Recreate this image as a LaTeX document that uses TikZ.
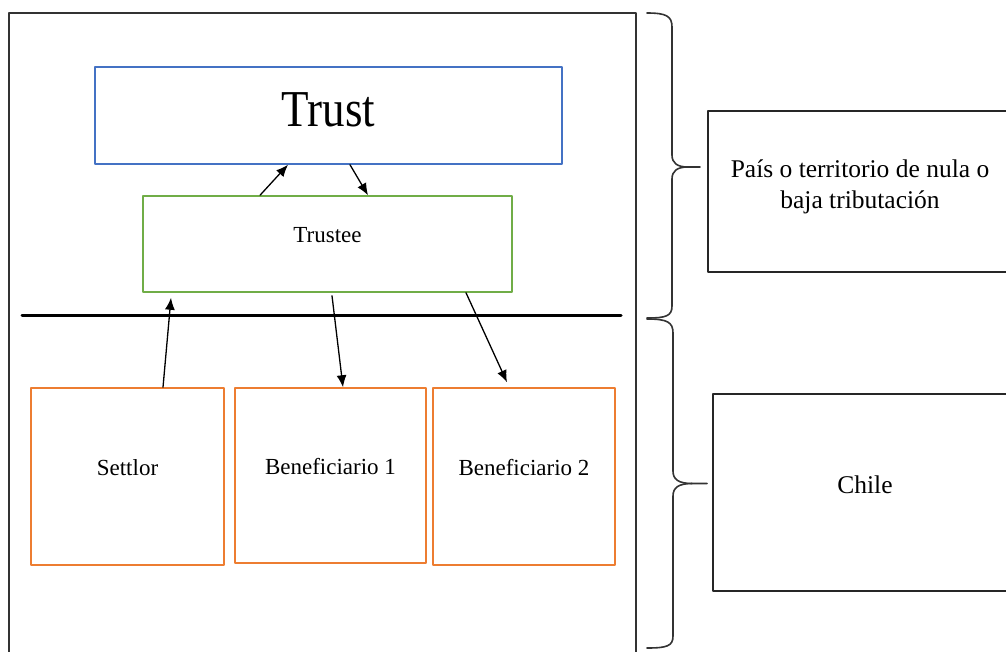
\documentclass[tikz,border=0pt]{standalone}
\usepackage{fontspec}
\setmainfont{LiberationSerif}[Extension=.ttf,UprightFont=*-Regular,BoldFont=*-Bold]
\usepackage{graphicx}
\usetikzlibrary{arrows.meta}

\definecolor{trustblue}{HTML}{4472C4}
\definecolor{trusteegreen}{HTML}{70AD47}
\definecolor{partyorange}{HTML}{ED7D31}

\begin{document}
\begin{tikzpicture}
      [line cap=round,line join=round,x=1pt,y=-1pt,
       box/.style={draw,rectangle,inner sep=0pt,line width=1.5pt,text=black,text depth=18pt,font=\rmfamily\fontsize{23}{28}\selectfont},
       side/.style={draw=black!85,rectangle,inner sep=0pt,line width=1.5pt,text=black,align=center,font=\rmfamily\fontsize{25.5}{31}\selectfont},
       flow/.style={-{Latex[length=12pt,width=10pt]},line width=1.3pt},
       brace/.style={line width=1.6pt,color=black!80}]

\useasboundingbox (0,0) rectangle (1006,651);
\clip (0,0) rectangle (1006,651);

%frame and border line
  \draw[line width=1.6pt,color=black!80] (9,652) |- (636,13) -- (636,652);
  \draw[line width=3pt] (22,315) -- (621,315);

%main boxes
  \node[box,draw=trustblue,minimum width=467,minimum height=97,text depth=12pt,font=\rmfamily\fontsize{45}{50}\selectfont] (trust) at (328.5,115.5) {\scalebox{1}[1.15]{Trust}};
  \node[box,draw=trusteegreen,minimum width=369,minimum height=96] (trustee) at (327.5,244) {Trustee};
  \node[box,draw=partyorange,minimum width=193,minimum height=177] (settlor) at (127.5,476.5) {Settlor};
  \node[box,draw=partyorange,minimum width=191,minimum height=175] (benef1) at (330.5,475.5) {Beneficiario 1};
  \node[box,draw=partyorange,minimum width=182,minimum height=177] (benef2) at (524,476.5) {Beneficiario 2};

%arrows
  \draw[flow] ([xshift=-67.5pt]trustee.north) -- ([xshift=-40.5pt]trust.south);
  \draw[flow] ([xshift=21.5pt]trust.south) -- ([xshift=40.5pt]trustee.north);
  \draw[flow] ([xshift=35.5pt]settlor.north) -- ([xshift=-156.5pt,yshift=-5pt]trustee.south);
  \draw[flow] ([xshift=4.5pt,yshift=-3pt]trustee.south) -- ([xshift=12.5pt]benef1.north);
  \draw[flow] ([xshift=138.5pt]trustee.south) -- ([xshift=-17pt,yshift=5pt]benef2.north);

%right side
  \node[side,minimum width=304,minimum height=161,text depth=15pt] (pais) at (860,191.5) {País o territorio de nula o\\baja tributación};
  \node[side,minimum width=304,minimum height=197,text depth=16pt] (chile) at (865,492.5) {Chile};

%braces
  \draw[brace] (647,13) .. controls (666,13) and (672,16) .. (672,27) -- (672,155) .. controls (672,163) and (677,167) .. (688,167) -- (700,167);
  \draw[brace] (688,167) .. controls (677,167) and (672,171) .. (672,179) -- (672,306) .. controls (672,316) and (666,318) .. (647,318);
  \draw[brace] (647,319) .. controls (667,319) and (673,322) .. (673,333) -- (673,471) .. controls (673,479) and (678,483.5) .. (692,483.5) -- (707,483.5);
  \draw[brace] (692,483.5) .. controls (678,483.5) and (673,488) .. (673,496) -- (673,636) .. controls (673,646) and (667,648) .. (647,648);

\end{tikzpicture}
\end{document}
